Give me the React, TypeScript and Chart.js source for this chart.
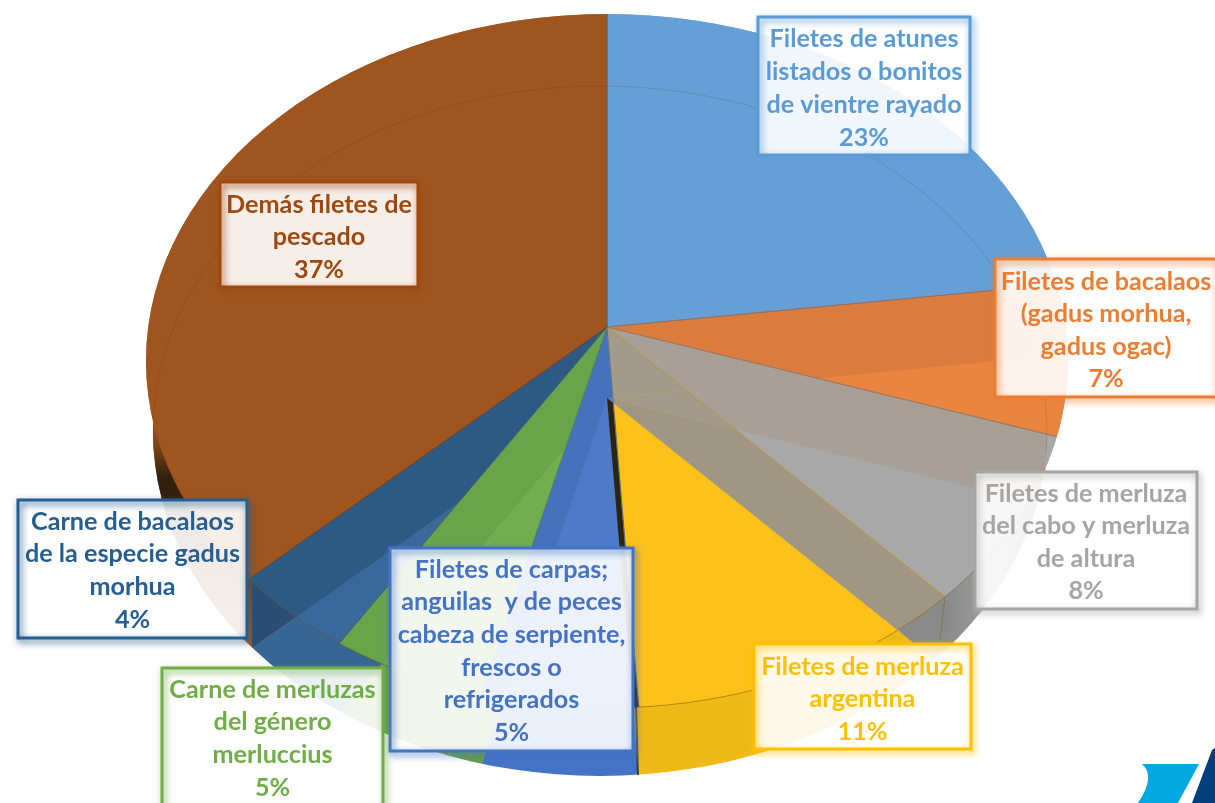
import React, { useEffect, useRef } from "react";
import { Chart, registerables } from "chart.js";

Chart.register(...registerables);

const categories = [
  "Filetes de atunes listados o bonitos de vientre rayado",
  "Filetes de bacalaos (gadus morhua, gadus ogac)",
  "Filetes de merluza del cabo y merluza de altura",
  "Filetes de merluza argentina",
  "Filetes de carpas; anguilas y de peces cabeza de serpiente, frescos o refrigerados",
  "Carne de merluzas del género merluccius",
  "Carne de bacalaos de la especie gadus morhua",
  "Demás filetes de pescado",
];
const values = [23, 7, 8, 11, 5, 5, 4, 37];

const labelLines = [
  ["Filetes de atunes", "listados o bonitos", "de vientre rayado", "23%"],
  ["Filetes de bacalaos", "(gadus morhua,", "gadus ogac)", "7%"],
  ["Filetes de merluza", "del cabo y merluza", "de altura", "8%"],
  ["Filetes de merluza", "argentina", "11%"],
  ["Filetes de carpas;", "anguilas  y de peces", "cabeza de serpiente,", "frescos o", "refrigerados", "5%"],
  ["Carne de merluzas", "del género", "merluccius", "5%"],
  ["Carne de bacalaos", "de la especie gadus", "morhua", "4%"],
  ["Demás filetes de", "pescado", "37%"],
];

const labelColors = ["#5B9BD5", "#ED7D31", "#A5A5A5", "#FFC000", "#4472C4", "#70AD47", "#255E91", "#9E480E"];
const topColors = ["#669FD6", "#EA8540", "#A8A8A8", "#FFC31A", "#4F7DC8", "#72B052", "#396A9B", "#A05520"];
const bottomColors = ["#669FD6", "#EA8540", "#A8A8A8", "#EFBA18", "#4472C4", "#64A043", "#366794", "#A05520"];
const edgeColors = ["#5088BD", "#B0602A", "#8C8478", "#C9A21E", "#3D66AE", "#5F9440", "#2C557E", "#7E4215"];

// [left, top, width, height, first line centre, line step]
const boxes = [
  [758, 17, 212, 138, 38.5, 33],
  [995, 259, 222, 138, 281.5, 32.6],
  [975, 472, 222, 137, 493.5, 32.6],
  [754, 644, 217, 105, 666.5, 32.6],
  [390, 548, 243, 203, 569.5, 32.7],
  [162, 668, 221, 140, 689.5, 32.7],
  [18, 500, 229, 138, 521.5, 32.7],
  [220, 182, 198, 105, 204.5, 32.6],
];

const SCALE_X = 560;
const SCALE_Y = 420;
const topFace = { ax: 607, ay: 327, cx: 607, cy: 361, rx: 461, ry: 347 };
const bottomFace = { ax: 607, ay: 398, cx: 600, cy: 431, rx: 447, ry: 345 };

const clipEllipse = (ctx: any, f: any) => {
  ctx.beginPath();
  ctx.ellipse(f.cx, f.cy, f.rx, f.ry, 0, 0, Math.PI * 2);
  ctx.clip();
};
const clipOutside = (ctx: any, f: any) => {
  ctx.beginPath();
  ctx.rect(0, 0, 1215, 803);
  ctx.ellipse(f.cx, f.cy, f.rx, f.ry, 0, 0, Math.PI * 2);
  ctx.clip("evenodd");
};
const toFace = (ctx: any, arc: any, f: any) => {
  ctx.translate(f.ax, f.ay);
  ctx.scale(SCALE_X / arc.outerRadius, SCALE_Y / arc.outerRadius);
  ctx.translate(-arc.x, -arc.y);
};
const paint = (ctx: any, arc: any, f: any, fill: any, alpha = 1, edge = "rgba(0,0,0,0)", bw = 0) => {
  const saved = arc.options;
  arc.options = {
    ...saved,
    backgroundColor: fill,
    borderColor: edge,
    borderWidth: bw,
    borderAlign: "center",
    borderJoinStyle: "round",
    offset: 0,
    spacing: 0,
    borderRadius: 0,
    circular: true,
    borderDash: [],
    borderDashOffset: 0,
  };
  ctx.save();
  ctx.globalAlpha = alpha;
  toFace(ctx, arc, f);
  arc.draw(ctx);
  ctx.restore();
  arc.options = saved;
};
const clipWedge = (ctx: any, arc: any, f: any) => {
  ctx.save();
  toFace(ctx, arc, f);
  ctx.beginPath();
  ctx.moveTo(arc.x, arc.y);
  ctx.arc(arc.x, arc.y, arc.outerRadius, arc.startAngle, arc.endAngle);
  ctx.closePath();
  ctx.restore();
  ctx.clip();
};

// colour seen where an upper slice lies over a different lower slice
const overlapColors: [number, number, string][] = [
  [1, 0, "#D97C3E"],
  [2, 0, "#A89F96"],
  [2, 1, "#A89F96"],
  [3, 0, "#A29A8A"],
  [3, 1, "#A29A8A"],
  [3, 2, "#9F9684"],
  [4, 0, "#4472BC"],
  [4, 3, "#2B2410"],
  [4, 5, "#4472BC"],
  [4, 6, "#4472BC"],
  [4, 7, "#4472BC"],
  [5, 6, "#68A44A"],
  [5, 7, "#68A44A"],
  [6, 7, "#2D5A85"],
];

const facePlugin = {
  id: "faces",
  beforeDatasetDraw(chart: any) {
    const ctx = chart.ctx;
    const arcs = chart.getDatasetMeta(0).data;

    ctx.save();
    clipEllipse(ctx, topFace);
    arcs.forEach((a: any, i: number) => paint(ctx, a, topFace, topColors[i]));
    ctx.restore();

    ctx.save();
    clipEllipse(ctx, bottomFace);
    arcs.forEach((a: any, i: number) => paint(ctx, a, bottomFace, bottomColors[i], 1, "rgba(0,0,0,0.12)", 0.5));
    ctx.restore();

    // side walls: the part of the lower face that lies outside the upper rim
    ctx.save();
    clipEllipse(ctx, bottomFace);
    clipOutside(ctx, topFace);
    ctx.save();
    clipWedge(ctx, arcs[2], bottomFace);
    const g = ctx.createLinearGradient(945, 0, 1050, 0);
    g.addColorStop(0, "#8A8A8A");
    g.addColorStop(0.55, "#A2A2A2");
    g.addColorStop(0.92, "#777777");
    g.addColorStop(1, "#2E2A26");
    ctx.fillStyle = g;
    ctx.fillRect(900, 400, 200, 300);
    ctx.restore();
    ctx.save();
    clipWedge(ctx, arcs[7], bottomFace);
    const b = ctx.createLinearGradient(0, 425, 0, 640);
    b.addColorStop(0, "#9A5420");
    b.addColorStop(0.1, "#7A4419");
    b.addColorStop(0.24, "#33200F");
    b.addColorStop(0.36, "#33200F");
    b.addColorStop(0.6, "#6B3A16");
    b.addColorStop(1, "#A05A20");
    ctx.fillStyle = b;
    ctx.fillRect(140, 400, 112, 300);
    ctx.fillStyle = "#2A4D75";
    ctx.fillRect(252, 500, 120, 200);
    ctx.restore();
    ctx.restore();

    ctx.save();
    clipEllipse(ctx, topFace);
    arcs.forEach((a: any, i: number) => paint(ctx, a, topFace, topColors[i], 0.86));
    ctx.restore();

    overlapColors.forEach(([t, o, color]) => {
      ctx.save();
      clipEllipse(ctx, topFace);
      clipEllipse(ctx, bottomFace);
      clipWedge(ctx, arcs[t], topFace);
      paint(ctx, arcs[o], bottomFace, color);
      ctx.restore();
    });

    ctx.save();
    clipEllipse(ctx, topFace);
    arcs.forEach((a: any, i: number) => paint(ctx, a, topFace, "rgba(0,0,0,0)", 1, edgeColors[i], 0.6));
    ctx.restore();

    // rims
    ctx.save();
    ctx.lineWidth = 1;
    ctx.strokeStyle = "rgba(60,30,0,0.14)";
    ctx.beginPath();
    ctx.ellipse(bottomFace.cx, bottomFace.cy, bottomFace.rx, bottomFace.ry, 0, Math.PI * 0.98, Math.PI * 2.02);
    ctx.stroke();
    ctx.strokeStyle = "rgba(110,80,0,0.5)";
    ctx.beginPath();
    ctx.ellipse(topFace.cx, topFace.cy, topFace.rx, topFace.ry, 0, Math.PI * 0.1, Math.PI * 0.85);
    ctx.stroke();
    ctx.strokeStyle = "rgba(110,80,0,0.35)";
    ctx.beginPath();
    ctx.moveTo(945, 597);
    ctx.lineTo(940, 640);
    ctx.stroke();
    ctx.strokeStyle = "rgba(25,25,45,0.65)";
    ctx.lineWidth = 2;
    ctx.beginPath();
    ctx.moveTo(636, 706);
    ctx.lineTo(638, 775);
    ctx.stroke();
    ctx.restore();
    return false;
  },
  afterDraw(chart: any) {
    const ctx = chart.ctx;
    // logo corner
    ctx.save();
    ctx.fillStyle = "#00A7E1";
    ctx.beginPath();
    ctx.moveTo(1142, 764);
    ctx.lineTo(1199, 764);
    ctx.lineTo(1178, 803);
    ctx.lineTo(1138, 803);
    ctx.quadraticCurveTo(1156, 776, 1142, 764);
    ctx.fill();
    ctx.fillStyle = "#003F7D";
    ctx.beginPath();
    ctx.moveTo(1192, 803);
    ctx.lineTo(1212, 750);
    ctx.lineTo(1215, 748);
    ctx.lineTo(1215, 803);
    ctx.closePath();
    ctx.fill();
    ctx.restore();

    boxes.forEach(([x, y, w, h, first, step], i) => {
      ctx.save();
      ctx.fillStyle = "rgba(255,255,255,0.9)";
      ctx.fillRect(x, y, w, h);
      ctx.shadowColor = labelColors[i];
      ctx.shadowBlur = 7;
      ctx.shadowOffsetX = 2;
      ctx.shadowOffsetY = 3;
      ctx.strokeStyle = labelColors[i];
      ctx.lineWidth = 3;
      ctx.strokeRect(x, y, w, h);
      ctx.shadowColor = "transparent";
      ctx.fillStyle = labelColors[i];
      ctx.font = "bold 25.2px Lato";
      ctx.textAlign = "center";
      ctx.textBaseline = "middle";
      labelLines[i].forEach((line, n) => ctx.fillText(line, x + w / 2, first + n * step));
      ctx.restore();
    });
  },
};

export default function App() {
  const ref = useRef<HTMLCanvasElement>(null);
  useEffect(() => {
    document.body.style.margin = "0";
    const chart = new Chart(ref.current as any, {
      type: "pie",
      data: {
        labels: categories,
        datasets: [{ data: values, backgroundColor: topColors, borderWidth: 0 }],
      },
      options: {
        responsive: false,
        animation: false,
        plugins: { legend: { display: false }, tooltip: { enabled: false } },
      },
      plugins: [facePlugin],
    } as any);
    return () => chart.destroy();
  }, []);
  return (
    <div style={{ width: 1215, height: 803, overflow: "hidden", background: "#fff" }}>
      <canvas ref={ref} width={1215} height={803} style={{ display: "block" }} />
    </div>
  );
}
